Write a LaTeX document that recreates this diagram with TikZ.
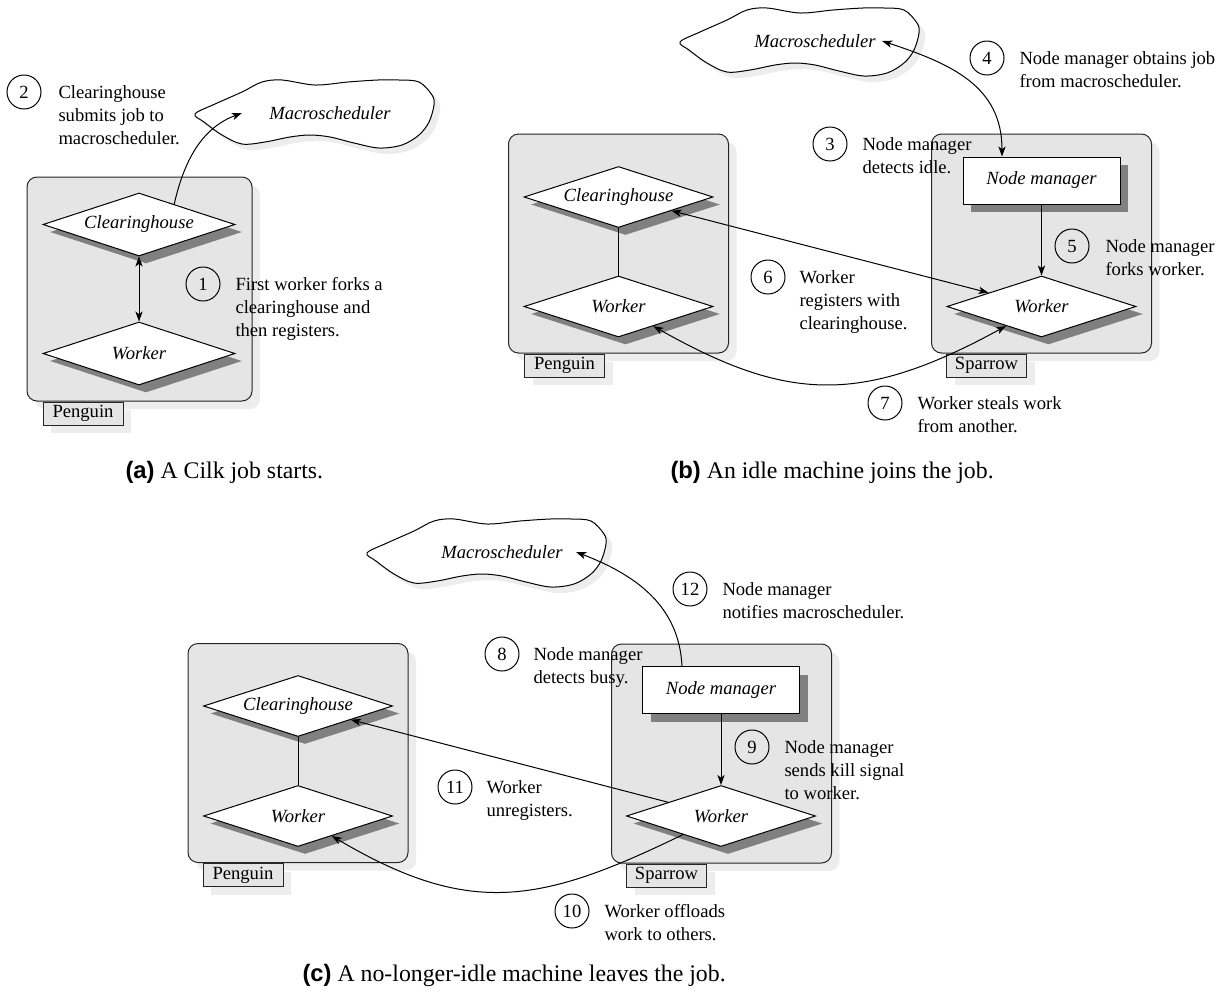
\documentclass[tikz,border=0pt]{standalone}
\usepackage{fontspec}
\setmainfont{Liberation Serif}
\newfontfamily\capsans{Liberation Sans}
\usepackage{tikz}
\usetikzlibrary{positioning,arrows.meta,shapes.geometric,shadows}

\definecolor{boxgray}{gray}{0.9}
\definecolor{shadowdark}{gray}{0.5}
\definecolor{shadowlight}{gray}{0.93}

\begin{document}
\begin{tikzpicture}[x=0.5pt, y=-0.5pt, line width=0.5pt,
  font=\fontsize{9.3}{11.5}\selectfont, >={Stealth[length=5pt, width=3.6pt, inset=1.3pt]},
  machine/.style={draw=black!85, rounded corners=5pt, fill=boxgray, minimum width=110pt, minimum height=109.5pt,
    general shadow={fill=shadowlight, shadow xshift=4pt, shadow yshift=-4pt}},
  tag/.style={draw=black!85, fill=boxgray, minimum width=40pt, minimum height=11.5pt, inner sep=0pt, anchor=north west,
    general shadow={fill=shadowlight, shadow xshift=4pt, shadow yshift=-4pt}},
  proc/.style={diamond, draw, fill=white, inner sep=0pt, aspect=3, minimum width=94.5pt, minimum height=30.5pt,
    font=\fontsize{9.3}{11.5}\selectfont\itshape, general shadow={fill=shadowdark, shadow xshift=3.5pt, shadow yshift=-3.75pt}},
  mgr/.style={draw, fill=white, minimum width=78.5pt, minimum height=23.5pt, font=\fontsize{9.3}{11.5}\selectfont\itshape,
    general shadow={fill=shadowdark, shadow xshift=4pt, shadow yshift=-4pt}},
  sched/.style={inner sep=0pt, font=\fontsize{9.3}{11.5}\selectfont\itshape},
  num/.style={circle, draw, minimum size=17pt, inner sep=0pt},
  note/.style={align=left, inner sep=0pt, anchor=north west},
  capt/.style={anchor=west, inner sep=0pt, font=\fontsize{11.9}{14}\selectfont},
  cloud/.pic={
    \fill[shadowlight, shift={(6,6)}] plot[smooth cycle, tension=0.55] coordinates {(-135,1) (-115,-9) (-88,-21) (-68,-31) (-48,-33) (-15,-28) (18,-31) (48,-33) (69,-33) (89,-31) (102,-18) (104,-8) (99,9) (89,22) (72,32) (49,35) (24,30) (0,24) (-20,22) (-40,24) (-65,29) (-88,31) (-108,22) (-126,9)};
    \filldraw[fill=white] plot[smooth cycle, tension=0.55] coordinates {(-135,1) (-115,-9) (-88,-21) (-68,-31) (-48,-33) (-15,-28) (18,-31) (48,-33) (69,-33) (89,-31) (102,-18) (104,-8) (99,9) (89,22) (72,32) (49,35) (24,30) (0,24) (-20,22) (-40,24) (-65,29) (-88,31) (-108,22) (-126,9)};
  }]
\useasboundingbox (0,0) rectangle (1228,997);

% (a) a Cilk job starts
\node[machine, minimum width=112.5pt, minimum height=112pt] (pena) at (139.5,289) {};
\node[tag] (tpa) at ([xshift=8pt]pena.south west) {Penguin};
\node[proc, minimum width=96pt, minimum height=31.5pt] (cha) at (139,224.5) {Clearinghouse};
\node[proc, minimum width=96pt, minimum height=31.5pt] (wka) at (139,353.5) {Worker};
\pic at (330,113) {cloud};
\node[sched] (msa) at (330,113) {Macroscheduler};
\node[num] (n1) at (203,284) {1};
\node[note] (t1) at ([xshift=16pt, yshift=6.4pt]n1.base) {First worker forks a\\clearinghouse and\\then registers.};
\node[num] (n2) at (24,92) {2};
\node[note] (t2) at ([xshift=17pt, yshift=6.4pt]n2.base) {Clearinghouse\\submits job to\\macroscheduler.};
\draw[<->] (cha) -- (wka);
\draw[->] (cha.30) .. controls +(10,-44) and +(-40,15) .. ([xshift=-13.5pt]msa.west);
\node[capt] (capa) at (125,472) {{\capsans\bfseries (a)} A Cilk job starts.};

% (b) an idle machine joins
\node[machine] (penb) at (618.5,243.5) {};
\node[tag] (tpb) at ([xshift=8pt]penb.south west) {Penguin};
\node[machine] (spb) at (1041.5,243.5) {};
\node[tag] (tsb) at ([xshift=7.5pt]spb.south west) {Sparrow};
\node[proc] (chb) at (618.5,197) {Clearinghouse};
\node[proc] (wkb) at (618.5,306.5) {Worker};
\node[mgr] (nmb) at (1041.5,180.5) {Node manager};
\node[proc] (wkb2) at (1041.5,306.5) {Worker};
\pic at (815,41) {cloud};
\node[sched] (msb) at (815,41) {Macroscheduler};
\node[num] (n3) at (830,144) {3};
\node[note] (t3) at ([xshift=16pt, yshift=6.4pt]n3.base) {Node manager\\detects idle.};
\node[num] (n4) at (987,58) {4};
\node[note] (t4) at ([xshift=16pt, yshift=6.4pt]n4.base) {Node manager obtains job\\from macroscheduler.};
\node[num] (n5) at (1072,246) {5};
\node[note] (t5) at ([xshift=16.5pt, yshift=6.4pt]n5.base) {Node manager\\forks worker.};
\node[num] (n6) at (768,277) {6};
\node[note] (t6) at ([xshift=15.5pt, yshift=6.4pt]n6.base) {Worker\\registers with\\clearinghouse.};
\node[num] (n7) at (885,403) {7};
\node[note] (t7) at ([xshift=16pt, yshift=6.4pt]n7.base) {Worker steals work\\from another.};
\draw (chb) -- (wkb);
\draw[->] (nmb) -- (wkb2);
\draw[<->] (chb) -- (wkb2);
\draw[<->] (wkb) .. controls +(167.5,94.5) and +(-181.5,99.5) .. (wkb2);
\draw[<->] ([xshift=3pt]msb.east) .. controls +(70,23) and +(0,-70) .. ([xshift=-19.75pt]nmb.north);
\node[capt] (capb) at (670,472) {{\capsans\bfseries (b)} An idle machine joins the job.};

% (c) a no-longer-idle machine leaves
\node[machine] (penc) at (298,753) {};
\node[tag] (tpc) at ([xshift=7.5pt]penc.south west) {Penguin};
\node[machine] (spc) at (721.5,753.5) {};
\node[tag] (tsc) at ([xshift=7.5pt]spc.south west) {Sparrow};
\node[proc] (chc) at (298,706) {Clearinghouse};
\node[proc] (wkc) at (298,816) {Worker};
\node[mgr] (nmc) at (721,690) {Node manager};
\node[proc] (wkc2) at (721,816) {Worker};
\pic at (502,552) {cloud};
\node[sched] (msc) at (502,552) {Macroscheduler};
\node[num] (n8) at (502,654) {8};
\node[note] (t8) at ([xshift=15.5pt, yshift=6.4pt]n8.base) {Node manager\\detects busy.};
\node[num] (n9) at (752,747) {9};
\node[note] (t9) at ([xshift=16pt, yshift=6.4pt]n9.base) {Node manager\\sends kill signal\\to worker.};
\node[num] (n10) at (572,911) {10};
\node[note] (t10) at ([xshift=16pt, yshift=6.4pt]n10.base) {Worker offloads\\work to others.};
\node[num] (n11) at (455,787) {11};
\node[note] (t11) at ([xshift=15.5pt, yshift=6.4pt]n11.base) {Worker\\unregisters.};
\node[num] (n12) at (690,589) {12};
\node[note] (t12) at ([xshift=16pt, yshift=6.4pt]n12.base) {Node manager\\notifies macroscheduler.};
\draw (chc) -- (wkc);
\draw[->] (nmc) -- (wkc2);
\draw[->] (wkc2) -- (chc);
\draw[->] (wkc2) .. controls +(-181.5,88.5) and +(171,101) .. (wkc);
\draw[->] ([xshift=-19.5pt]nmc.north) .. controls +(-3,-60) and +(60,23) .. ([xshift=6.5pt]msc.east);
\node[capt] (capc) at (302,975) {{\capsans\bfseries (c)} A no-longer-idle machine leaves the job.};
\end{tikzpicture}
\end{document}
